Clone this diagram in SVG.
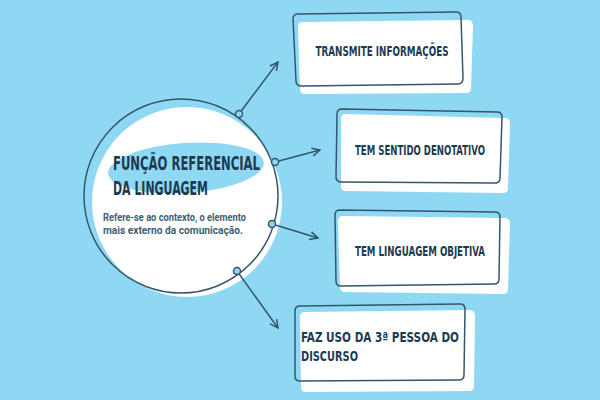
<svg xmlns="http://www.w3.org/2000/svg" width="600" height="400" viewBox="0 0 600 400">
<defs>
<style>
.ln{stroke:#34566b;stroke-width:1.5;fill:none}
.bx{fill:#fff}
.ol{fill:none;stroke:#34566b;stroke-width:1.5}
.t{font-family:"DejaVu Sans Condensed","DejaVu Sans",sans-serif;font-weight:bold;fill:#1d3b50;font-size:13.5px}
.h{font-size:20px}
.dot{fill:#8ed8f4;stroke:#34566b;stroke-width:1.5}
</style>
<marker id="ah" viewBox="0 0 10 10" refX="9" refY="5" markerWidth="10" markerHeight="10" markerUnits="userSpaceOnUse" orient="auto"><path d="M1,1 L9,5 L1,9" fill="none" stroke="#34566b" stroke-width="1.5"/></marker>
</defs>
<rect width="600" height="400" fill="#8ed8f4"/>
<g id="center">
<circle cx="187" cy="202" r="95" fill="#fff"/>
<circle cx="181" cy="196" r="97" class="ol"/>
<ellipse cx="186" cy="168" rx="78" ry="25" transform="rotate(-4 186 168)" fill="#8ed8f4"/>
<text class="t h" x="113" y="170" textLength="147" lengthAdjust="spacingAndGlyphs">FUNÇÃO REFERENCIAL</text>
<text class="t h" x="113" y="195" textLength="95" lengthAdjust="spacingAndGlyphs">DA LINGUAGEM</text>
<text x="103" y="221" font-family="Roboto,sans-serif" font-weight="bold" font-size="10.5" fill="#3d5f75" textLength="143" lengthAdjust="spacingAndGlyphs">Refere-se ao contexto, o elemento</text>
<text x="103" y="234" font-family="Roboto,sans-serif" font-weight="bold" font-size="10.5" fill="#3d5f75" textLength="140" lengthAdjust="spacingAndGlyphs">mais externo da comunicação.</text>
</g>
<g id="connectors">
<line class="ln" x1="239" y1="114" x2="278" y2="62" marker-end="url(#ah)"/>
<line class="ln" x1="275" y1="162" x2="320" y2="150" marker-end="url(#ah)"/>
<line class="ln" x1="272" y1="224" x2="318" y2="238" marker-end="url(#ah)"/>
<line class="ln" x1="237" y1="271" x2="278" y2="328" marker-end="url(#ah)"/>
<circle class="dot" cx="239" cy="114" r="3.5"/>
<circle class="dot" cx="275" cy="162" r="3.5"/>
<circle class="dot" cx="272" cy="224" r="3.5"/>
<circle class="dot" cx="237" cy="271" r="3.5"/>
</g>
<g id="n1">
<path class="bx" d="M302,22 L468,20 Q473,20 473,26 L471,88 Q471,93 466,93 L305,94 Q300,94 300,89 L298,28 Q298,22 302,22Z"/>
<path class="ol" d="M298,14 L456,12 Q461,12 461,17 L463,78 Q463,84 458,84 L302,86 Q296,86 296,81 L293,19 Q293,14 298,14Z"/>
<text class="t" x="382" y="56" text-anchor="middle" textLength="133" lengthAdjust="spacingAndGlyphs">TRANSMITE INFORMAÇÕES</text>
</g>
<g id="n2">
<path class="bx" d="M345,114 L505,118 Q510,118 510,124 L508,188 Q508,193 503,193 L346,191 Q341,191 341,186 L341,119 Q341,114 345,114Z"/>
<path class="ol" d="M342,109 L497,112 Q502,112 502,117 L500,178 Q500,183 495,183 L342,182 Q336,182 336,177 L337,114 Q337,109 342,109Z"/>
<text class="t" x="420" y="155" text-anchor="middle" textLength="130" lengthAdjust="spacingAndGlyphs">TEM SENTIDO DENOTATIVO</text>
</g>
<g id="n3">
<path class="bx" d="M343,216 L505,218 Q510,218 510,224 L508,289 Q508,294 503,294 L345,292 Q340,292 340,287 L338,221 Q338,216 343,216Z"/>
<path class="ol" d="M340,210 L495,212 Q500,212 500,217 L499,279 Q499,284 494,284 L341,286 Q336,286 336,281 L335,215 Q335,210 340,210Z"/>
<text class="t" x="420" y="256" text-anchor="middle" textLength="130" lengthAdjust="spacingAndGlyphs">TEM LINGUAGEM OBJETIVA</text>
</g>
<g id="n4">
<path class="bx" d="M305,312 L470,310 Q475,310 475,316 L474,386 Q474,391 469,391 L306,392 Q301,392 301,387 L300,317 Q300,312 305,312Z"/>
<path class="ol" d="M300,306 L460,304 Q465,304 465,309 L464,375 Q464,380 459,380 L300,381 Q295,381 295,376 L295,311 Q295,306 300,306Z"/>
<text class="t" x="301" y="342" textLength="158" lengthAdjust="spacingAndGlyphs">FAZ USO DA 3ª PESSOA DO</text>
<text class="t" x="301" y="361" textLength="57" lengthAdjust="spacingAndGlyphs">DISCURSO</text>
</g>
</svg>
